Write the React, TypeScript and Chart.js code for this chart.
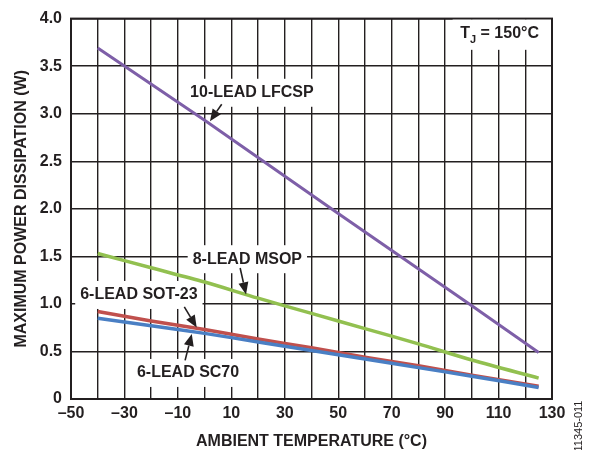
import React, { useEffect, useRef } from "react";
import { Chart, registerables } from "chart.js";

Chart.register(...registerables);

// ---- data ----
const lfcspT = [-40, 0, 50, 100, 125];
const lfcspW = [3.69, 2.93, 1.95, 0.98, 0.49];

const msopT = [-40, -20, 0, 20, 40, 60, 80, 100, 125];
const msopW = [1.53, 1.38, 1.23, 1.06, 0.9, 0.74, 0.58, 0.41, 0.22];

const sotT = [-40, -20, 0, 20, 40, 60, 80, 100, 125];
const sotW = [0.92, 0.82, 0.73, 0.63, 0.54, 0.44, 0.35, 0.25, 0.135];

const sc70T = [-40, -20, 0, 20, 40, 60, 80, 100, 125];
const sc70W = [0.85, 0.77, 0.69, 0.6, 0.51, 0.42, 0.33, 0.24, 0.12];

const xTitle = "AMBIENT TEMPERATURE (°C)";
const yTitle = "MAXIMUM POWER DISSIPATION (W)";
const figId = "11345-011";

// callout labels (data coordinates)
const calloutText = ["10-LEAD LFCSP", "8-LEAD MSOP", "6-LEAD SOT-23", "6-LEAD SC70"];
const calloutPos = [
  [17.7, 3.22],
  [16.0, 1.47],
  [-24.6, 1.094],
  [-6.2, 0.274],
];
// arrow: fromX, fromY, toX, toY
const calloutArrow = [
  [6.4, 3.1, 2.0, 2.92],
  [13.3, 1.378, 15.5, 1.1],
  [-7.6, 0.969, -2.96, 0.753],
  [-7.3, 0.406, -4.8, 0.684],
];
const tjPos = [110.4, 3.84];

const INK = "#231f20";
const FONT = "'Liberation Sans', Arial, Helvetica, sans-serif";

function pts(t: number[], w: number[]) {
  return t.map((x, i) => ({ x, y: w[i] }));
}

const annotate = {
  id: "annotate",
  beforeDatasetsDraw(chart: any) {
    const { ctx, chartArea: a, scales } = chart;
    const xs = scales.x;
    const ys = scales.y;
    ctx.save();
    ctx.strokeStyle = INK;
    ctx.lineWidth = 2;
    ctx.strokeRect(a.left, a.top, a.right - a.left, a.bottom - a.top);
    ctx.font = `bold 16px ${FONT}`;
    calloutText.forEach((txt, i) => {
      const px = xs.getPixelForValue(calloutPos[i][0]);
      const py = ys.getPixelForValue(calloutPos[i][1]);
      const w = ctx.measureText(txt).width;
      ctx.fillStyle = "#fff";
      ctx.fillRect(px - w / 2 - 5, py - 14, w + 10, 28);
    });
    const tx = xs.getPixelForValue(tjPos[0]);
    const ty = ys.getPixelForValue(tjPos[1]);
    ctx.fillStyle = "#fff";
    const left = tx - 47;
    ctx.fillRect(left, a.top + 1, a.right - 1 - left, ty + 16 - a.top - 1);
    ctx.restore();
  },
  afterDatasetsDraw(chart: any) {
    const { ctx, scales } = chart;
    const xs = scales.x;
    const ys = scales.y;
    ctx.save();
    ctx.font = `bold 16px ${FONT}`;
    ctx.textBaseline = "middle";
    ctx.textAlign = "center";
    ctx.fillStyle = INK;
    calloutText.forEach((txt, i) => {
      const px = xs.getPixelForValue(calloutPos[i][0]);
      const py = ys.getPixelForValue(calloutPos[i][1]);
      ctx.fillText(txt, px, py);
      const [fx, fy, tx2, ty2] = calloutArrow[i];
      const x1 = xs.getPixelForValue(fx);
      const y1 = ys.getPixelForValue(fy);
      const x2 = xs.getPixelForValue(tx2);
      const y2 = ys.getPixelForValue(ty2);
      const ang = Math.atan2(y2 - y1, x2 - x1);
      const hl = 12;
      const hw = 5;
      const bx = x2 - hl * Math.cos(ang);
      const by = y2 - hl * Math.sin(ang);
      ctx.strokeStyle = INK;
      ctx.lineWidth = 1.6;
      ctx.beginPath();
      ctx.moveTo(x1, y1);
      ctx.lineTo(bx, by);
      ctx.stroke();
      ctx.beginPath();
      ctx.moveTo(x2, y2);
      ctx.lineTo(bx + hw * Math.sin(ang), by - hw * Math.cos(ang));
      ctx.lineTo(bx - hw * Math.sin(ang), by + hw * Math.cos(ang));
      ctx.closePath();
      ctx.fill();
    });
    const tx = xs.getPixelForValue(tjPos[0]);
    const ty = ys.getPixelForValue(tjPos[1]);
    ctx.textAlign = "left";
    const p1 = "T";
    const p2 = "J";
    const p3 = " = 150°C";
    ctx.font = `bold 16px ${FONT}`;
    const w1 = ctx.measureText(p1).width;
    ctx.font = `bold 11px ${FONT}`;
    const w2 = ctx.measureText(p2).width;
    ctx.font = `bold 16px ${FONT}`;
    const w3 = ctx.measureText(p3).width;
    let sx = tx - (w1 + w2 + w3) / 2;
    ctx.fillText(p1, sx, ty);
    sx += w1;
    ctx.font = `bold 11px ${FONT}`;
    ctx.fillText(p2, sx, ty + 6);
    sx += w2;
    ctx.font = `bold 16px ${FONT}`;
    ctx.fillText(p3, sx, ty);
    ctx.restore();
  },
  afterDraw(chart: any) {
    const { ctx } = chart;
    ctx.save();
    ctx.translate(579, 426);
    ctx.rotate(-Math.PI / 2);
    ctx.font = `11px ${FONT}`;
    ctx.fillStyle = INK;
    ctx.textAlign = "center";
    ctx.textBaseline = "middle";
    ctx.fillText(figId, 0, 0);
    ctx.restore();
  },
};

export default function App() {
  const ref = useRef<HTMLCanvasElement>(null);
  useEffect(() => {
    document.body.style.margin = "0";
    const chart = new Chart(ref.current as HTMLCanvasElement, {
      type: "line",
      data: {
        datasets: [
          { label: "10-LEAD LFCSP", data: pts(lfcspT, lfcspW), borderColor: "#7e5fa8", borderWidth: 3, pointRadius: 0, tension: 0 },
          { label: "8-LEAD MSOP", data: pts(msopT, msopW), borderColor: "#92c050", borderWidth: 3.5, pointRadius: 0, tension: 0.3 },
          { label: "6-LEAD SC70", data: pts(sc70T, sc70W), borderColor: "#4a7fc4", borderWidth: 3.5, pointRadius: 0, tension: 0.3 },
          { label: "6-LEAD SOT-23", data: pts(sotT, sotW), borderColor: "#c0504d", borderWidth: 3.5, pointRadius: 0, tension: 0.3 },
        ],
      },
      options: {
        animation: false,
        responsive: false,
        devicePixelRatio: 1,
        layout: { padding: { left: 0, top: 15, right: 41, bottom: 0 } },
        plugins: { legend: { display: false }, tooltip: { enabled: false } },
        scales: {
          x: {
            type: "linear",
            min: -50,
            max: 130,
            ticks: {
              stepSize: 10,
              autoSkip: false,
              maxRotation: 0,
              padding: 5,
              color: INK,
              font: { family: FONT, size: 16, weight: "bold" },
              callback: (v: any) => {
                const n = Number(v);
                if ((n + 50) % 20 !== 0) return "";
                return n < 0 ? "–" + Math.abs(n) : String(n);
              },
            },
            grid: { color: INK, lineWidth: 1.4, drawTicks: false },
            border: { color: INK, width: 2 },
            title: {
              display: true,
              text: xTitle,
              color: INK,
              font: { family: FONT, size: 16, weight: "bold", lineHeight: 1 },
              padding: { top: 0, bottom: 0 },
            },
            afterFit: (s: any) => {
              s.height = 51;
            },
          },
          y: {
            min: 0,
            max: 4,
            ticks: {
              stepSize: 0.5,
              padding: 9,
              color: INK,
              font: { family: FONT, size: 16, weight: "bold" },
              callback: (v: any) => (Number(v) === 0 ? "0" : Number(v).toFixed(1)),
            },
            grid: { color: INK, lineWidth: 1.4, drawTicks: false },
            border: { color: INK, width: 2 },
            title: {
              display: true,
              text: yTitle,
              color: INK,
              font: { family: FONT, size: 16, weight: "bold", lineHeight: 1 },
              padding: { top: 14, bottom: 0 },
            },
            afterFit: (s: any) => {
              s.width = 71;
            },
          },
        },
      },
      plugins: [annotate],
    } as any);
    return () => chart.destroy();
  }, []);
  return (
    <div style={{ position: "fixed", left: 0, top: 0, width: 593, height: 450, background: "#fff" }}>
      <canvas ref={ref} width={593} height={450} />
    </div>
  );
}
